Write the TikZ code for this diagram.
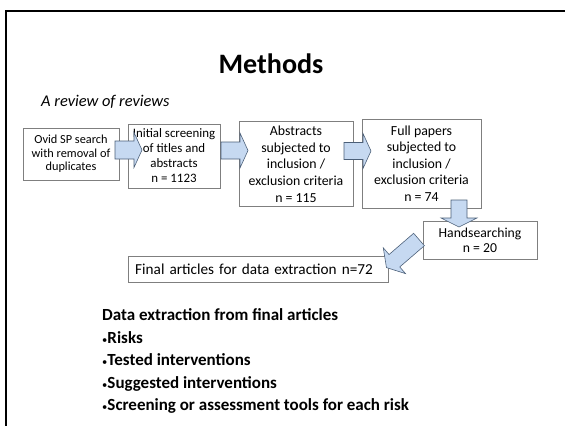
\documentclass[tikz,border=0pt]{standalone}
\usepackage{fontspec}
\setmainfont{Carlito}
\definecolor{boxline}{RGB}{127,127,127}
\definecolor{arrowfill}{RGB}{198,217,241}
\definecolor{arrowline}{RGB}{75,95,120}

% #1 length, #2 head length, #3 half shaft, #4 half head
\newcommand{\blockarrow}[4]{%
  \filldraw[bigarrow] (0,-#3) -- ({#1-#2},-#3) -- ({#1-#2},-#4) -- (#1,0)
    -- ({#1-#2},#4) -- ({#1-#2},#3) -- (0,#3) -- cycle;}

\begin{document}
\begin{tikzpicture}[x=0.03cm,y=-0.03cm,
  box/.style={draw=boxline,rectangle,inner sep=1pt,align=center},
  bigarrow/.style={draw=arrowline,fill=arrowfill,line width=0.5pt,line join=miter}]
  \useasboundingbox (0,0) rectangle (565,426);

  % slide frame
  \draw[line width=1.7pt] (565,11) -- (6,11) -- (6,426);

  \node (T) at (271,74) [anchor=base,font={\fontsize{24}{28}\selectfont\bfseries}] {Methods};
  \node (S) at (41,107) [anchor=base west,inner sep=0pt,font={\fontsize{14}{17}\selectfont\itshape}] {A review of reviews};

  % flow boxes
  \node (Ovid) at (71,154) [box,minimum width=2.88cm,minimum height=1.56cm,
    font={\fontsize{10.5}{11.5}\selectfont}]
    {Ovid SP search\\with removal of\\duplicates};
  \node (Init) at (174,156) [box,minimum width=2.76cm,minimum height=1.92cm,
    font={\fontsize{11}{12.8}\selectfont}]
    {Initial screening\\of titles and\\abstracts\\n = 1123};
  \node (Abs) at (296,164) [box,minimum width=3.42cm,minimum height=2.55cm,
    font={\fontsize{11.8}{14.2}\selectfont}]
    {Abstracts\\subjected to\\inclusion /\\exclusion criteria\\n = 115};
  \node (Full) at (421.5,163.5) [box,minimum width=3.57cm,minimum height=2.67cm,
    font={\fontsize{11.8}{14.2}\selectfont}]
    {Full papers\\subjected to\\inclusion /\\exclusion criteria\\n = 74};
  \node (Hand) at (480,240) [box,minimum width=3.42cm,minimum height=1.14cm,
    font={\fontsize{11.7}{12.8}\selectfont}]
    {Handsearching\\n = 20};
  \node (Final) at (128,269) [box,anchor=west,align=left,inner xsep=0.21cm,
    text width=7.38cm,minimum height=0.78cm,font={\fontsize{13}{15}\selectfont}]
    {Final articles for data extraction n=72};

  % block arrows
  \begin{scope}[shift={(115,150)}] \blockarrow{27}{8}{9}{17.5} \end{scope}
  \begin{scope}[shift={(221,150.5)}] \blockarrow{27}{8}{8.5}{17.5} \end{scope}
  \begin{scope}[shift={(344,151)}] \blockarrow{27}{8}{8.5}{17.5} \end{scope}
  \begin{scope}[shift={(459,200)},rotate=-90] \blockarrow{27}{9}{8}{18} \end{scope}
  \begin{scope}[shift={(419,239.5)},rotate=220.8] \blockarrow{43}{10.5}{8.2}{17} \end{scope}

  % data extraction list
  \node (D0) at (102,320.7) [anchor=base west,inner sep=0pt] {\fontsize{14.5}{19}\selectfont\bfseries Data extraction from final articles};
  \node (D1) at (102,343.2) [anchor=base west,inner sep=0pt] {\fontsize{14.5}{19}\selectfont{\small\textbullet}\bfseries Risks};
  \node (D2) at (102,365.7) [anchor=base west,inner sep=0pt] {\fontsize{14.5}{19}\selectfont{\small\textbullet}\bfseries Tested interventions};
  \node (D3) at (102,388.2) [anchor=base west,inner sep=0pt] {\fontsize{14.5}{19}\selectfont{\small\textbullet}\bfseries Suggested interventions};
  \node (D4) at (102,410.7) [anchor=base west,inner sep=0pt] {\fontsize{14.5}{19}\selectfont{\small\textbullet}\bfseries Screening or assessment tools for each risk};

\end{tikzpicture}
\end{document}
